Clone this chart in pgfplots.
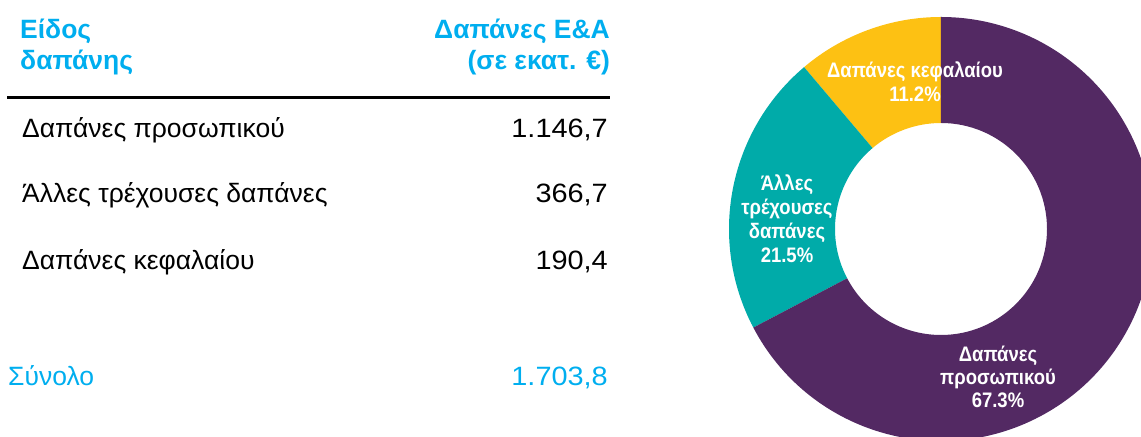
\documentclass[border=0pt]{standalone}
\usepackage{pgfplots}
\pgfplotsset{compat=1.18}
\usepackage{pgfplotstable}
\usepackage{fontspec}
\setmainfont{Liberation Sans}
\newfontfamily\donutfont[FakeStretch=0.88]{Liberation Sans}
\newfontfamily\numfont[FakeStretch=1.09]{Liberation Sans}
\definecolor{hdcyan}{HTML}{00AEEF}
\definecolor{purp}{HTML}{532963}
\definecolor{tealc}{HTML}{00ABA9}
\definecolor{yell}{HTML}{FDC113}

% spending, million euro (counter-clockwise from 12 o'clock)
\pgfplotstableread{
name value
capital 190.4
other 366.7
personnel 1146.7
}\spend

\begin{document}
\begin{tikzpicture}[x=1bp,y=1bp]
\path[use as bounding box] (0,0) rectangle (1141,437);
% ---------- table ----------
\fontsize{26.5bp}{31bp}\selectfont
\node[anchor=base west,inner sep=0,text=hdcyan,font=\bfseries] at (20,398) {Είδος};
\node[anchor=base west,inner sep=0,text=hdcyan,font=\bfseries] at (20,367) {δαπάνης};
\node[anchor=base east,inner sep=0,text=hdcyan,font=\bfseries] at (610,398) {Δαπάνες Ε\&Α};
\node[anchor=base east,inner sep=0,text=hdcyan,font=\bfseries] at (610,367) {(σε εκατ. €)};
\draw[line width=2.7bp] (7,339.3) -- (610,339.3);
\node[anchor=base west,inner sep=0] at (22,299) {Δαπάνες προσωπικού};
\node[anchor=base east,inner sep=0,font=\numfont] at (608,299) {1.146,7};
\node[anchor=base west,inner sep=0] at (22,234) {Άλλες τρέχουσες δαπάνες};
\node[anchor=base east,inner sep=0,font=\numfont] at (608,234) {366,7};
\node[anchor=base west,inner sep=0] at (22,167) {Δαπάνες κεφαλαίου};
\node[anchor=base east,inner sep=0,font=\numfont] at (608,167) {190,4};
\node[anchor=base west,inner sep=0,text=hdcyan] at (8,51) {Σύνολο};
\node[anchor=base east,inner sep=0,text=hdcyan,font=\numfont] at (608,51) {1.703,8};
% ---------- donut ----------
\pgfplotstablegetelem{0}{value}\of\spend \let\vA\pgfplotsretval
\pgfplotstablegetelem{1}{value}\of\spend \let\vB\pgfplotsretval
\pgfplotstablegetelem{2}{value}\of\spend \let\vC\pgfplotsretval
\pgfmathsetmacro{\tot}{\vA+\vB+\vC}
\pgfmathsetmacro{\aA}{90}
\pgfmathsetmacro{\aB}{\aA+360*(\vA/\tot)}
\pgfmathsetmacro{\aC}{\aB+360*(\vB/\tot)}
\pgfmathsetmacro{\aD}{\aC+360*(\vC/\tot)}
\begin{axis}[
  at={(700,0)}, anchor=south west,
  x=1bp, y=1bp,
  xmin=-241, xmax=200, ymin=-208, ymax=229,
  hide axis, clip=false,
]
\def\Ro{212}\def\Ri{106}
\fill[yell,shift={(axis cs:0,0)}] (\aA:\Ro bp) arc[start angle=\aA,end angle=\aB,radius=\Ro bp] -- (\aB:\Ri bp) arc[start angle=\aB,end angle=\aA,radius=\Ri bp] -- cycle;
\fill[tealc,shift={(axis cs:0,0)}] (\aB:\Ro bp) arc[start angle=\aB,end angle=\aC,radius=\Ro bp] -- (\aC:\Ri bp) arc[start angle=\aC,end angle=\aB,radius=\Ri bp] -- cycle;
\fill[purp,shift={(axis cs:0,0)}] (\aC:\Ro bp) arc[start angle=\aC,end angle=\aD,radius=\Ro bp] -- (\aD:\Ri bp) arc[start angle=\aD,end angle=\aC,radius=\Ri bp] -- cycle;
\tikzset{dl/.style={anchor=base,inner sep=0,text=white,font=\donutfont\bfseries\fontsize{21bp}{24bp}\selectfont}}
\node[dl] at (axis cs:-26,151) {Δαπάνες κεφαλαίου};
\node[dl] at (axis cs:-26,127) {11.2\%};
\node[dl] at (axis cs:-154,38) {Άλλες};
\node[dl] at (axis cs:-154,14) {τρέχουσες};
\node[dl] at (axis cs:-154,-10) {δαπάνες};
\node[dl] at (axis cs:-154,-34) {21.5\%};
\node[dl] at (axis cs:57,-133) {Δαπάνες};
\node[dl] at (axis cs:57,-156) {προσωπικού};
\node[dl] at (axis cs:57,-179) {67.3\%};
\end{axis}
\end{tikzpicture}
\end{document}
